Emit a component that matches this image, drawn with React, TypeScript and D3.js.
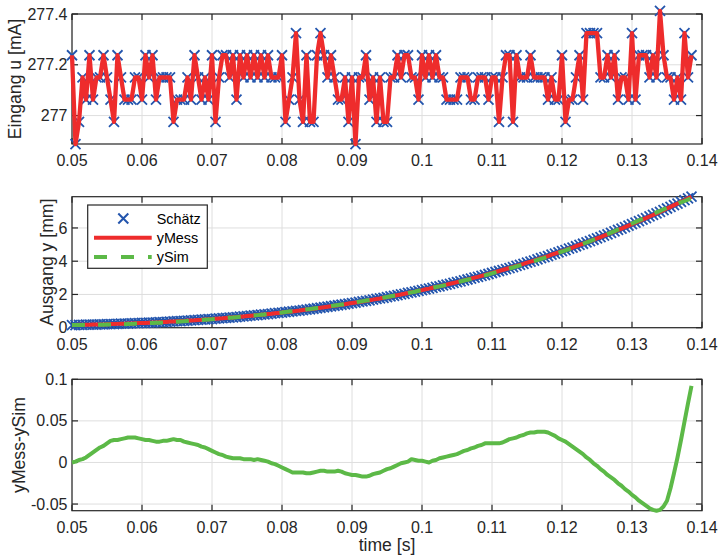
import React from 'react';
import * as d3 from 'd3';

// sampling of all three traces
const T0 = 0.05;
const DT = 0.0005;

// Eingang u: quantised current, given as index into the ADC levels
const uLevels = [276.8875, 276.975, 277.0625, 277.15, 277.2375, 277.325, 277.4125];
const uIdx = [
  4, 0, 1, 3, 2, 4, 2, 3, 3, 4,
  3, 2, 1, 4, 3, 2, 2, 2, 3, 3,
  2, 4, 3, 4, 2, 3, 3, 3, 3, 1,
  2, 2, 2, 3, 2, 4, 3, 2, 3, 2,
  4, 1, 3, 4, 4, 3, 4, 2, 4, 3,
  4, 3, 4, 3, 4, 3, 4, 3, 3, 3,
  4, 1, 2, 3, 5, 2, 1, 4, 1, 1,
  4, 5, 4, 3, 4, 3, 2, 2, 3, 1,
  3, 0, 3, 3, 4, 2, 3, 1, 3, 1,
  1, 3, 3, 4, 3, 4, 4, 3, 3, 2,
  4, 3, 4, 3, 4, 3, 3, 2, 2, 2,
  2, 3, 3, 3, 2, 2, 3, 3, 3, 2,
  3, 3, 1, 3, 4, 4, 1, 4, 3, 3,
  3, 4, 3, 3, 3, 3, 2, 3, 2, 2,
  4, 1, 2, 2, 3, 4, 2, 5, 5, 5,
  5, 3, 3, 4, 3, 4, 2, 3, 3, 2,
  5, 2, 4, 4, 4, 3, 4, 3, 6, 4,
  3, 3, 2, 3, 2, 5, 3, 4,
];

// Ausgang y [mm] (measured)
const yMess = [
  0.16, 0.16, 0.17, 0.17, 0.18, 0.18, 0.19, 0.19, 0.20, 0.20,
  0.21, 0.22, 0.22, 0.23, 0.24, 0.24, 0.25, 0.26, 0.27, 0.28,
  0.29, 0.29, 0.30, 0.31, 0.32, 0.33, 0.34, 0.35, 0.37, 0.38,
  0.39, 0.40, 0.41, 0.43, 0.44, 0.45, 0.47, 0.48, 0.50, 0.51,
  0.52, 0.54, 0.56, 0.57, 0.59, 0.61, 0.62, 0.64, 0.66, 0.68,
  0.70, 0.72, 0.74, 0.76, 0.78, 0.80, 0.82, 0.84, 0.87, 0.89,
  0.91, 0.94, 0.96, 0.98, 1.01, 1.03, 1.06, 1.09, 1.11, 1.14,
  1.17, 1.20, 1.23, 1.26, 1.29, 1.32, 1.35, 1.38, 1.41, 1.45,
  1.48, 1.51, 1.55, 1.58, 1.62, 1.65, 1.69, 1.73, 1.76, 1.80,
  1.84, 1.88, 1.92, 1.96, 2.00, 2.04, 2.09, 2.13, 2.17, 2.22,
  2.26, 2.31, 2.35, 2.40, 2.45, 2.49, 2.54, 2.59, 2.64, 2.69,
  2.74, 2.79, 2.85, 2.90, 2.95, 3.01, 3.06, 3.12, 3.17, 3.23,
  3.29, 3.35, 3.41, 3.47, 3.53, 3.59, 3.65, 3.72, 3.78, 3.84,
  3.91, 3.97, 4.04, 4.11, 4.18, 4.24, 4.31, 4.39, 4.46, 4.53,
  4.60, 4.67, 4.75, 4.82, 4.90, 4.98, 5.05, 5.13, 5.21, 5.29,
  5.37, 5.45, 5.54, 5.62, 5.70, 5.79, 5.88, 5.96, 6.05, 6.14,
  6.23, 6.32, 6.41, 6.50, 6.59, 6.69, 6.78, 6.88, 6.97, 7.07,
  7.17, 7.27, 7.37, 7.47, 7.57, 7.67, 7.78, 7.88,
];

// yMess - ySim
const yDiff = [
  0.000, 0.001, 0.003, 0.004, 0.006, 0.009, 0.012, 0.015, 0.018, 0.020,
  0.023, 0.026, 0.027, 0.027, 0.028, 0.029, 0.030, 0.030, 0.030, 0.029,
  0.028, 0.027, 0.027, 0.026, 0.025, 0.025, 0.026, 0.026, 0.027, 0.028,
  0.027, 0.027, 0.025, 0.024, 0.023, 0.022, 0.021, 0.019, 0.018, 0.016,
  0.014, 0.012, 0.010, 0.009, 0.007, 0.006, 0.005, 0.005, 0.005, 0.004,
  0.004, 0.004, 0.003, 0.004, 0.003, 0.002, 0.001, -0.001, -0.002, -0.004,
  -0.006, -0.008, -0.010, -0.012, -0.012, -0.012, -0.012, -0.013, -0.013, -0.012,
  -0.011, -0.010, -0.010, -0.011, -0.011, -0.011, -0.010, -0.011, -0.013, -0.014,
  -0.015, -0.015, -0.016, -0.017, -0.017, -0.016, -0.014, -0.013, -0.012, -0.010,
  -0.008, -0.007, -0.005, -0.003, -0.001, 0.000, 0.001, 0.004, 0.003, 0.002,
  0.002, 0.001, 0.000, 0.002, 0.003, 0.005, 0.006, 0.007, 0.008, 0.009,
  0.010, 0.012, 0.014, 0.015, 0.017, 0.018, 0.020, 0.021, 0.023, 0.023,
  0.023, 0.023, 0.023, 0.024, 0.026, 0.028, 0.029, 0.030, 0.032, 0.033,
  0.035, 0.036, 0.036, 0.037, 0.037, 0.037, 0.036, 0.034, 0.032, 0.029,
  0.027, 0.025, 0.022, 0.019, 0.016, 0.013, 0.010, 0.006, 0.003, -0.001,
  -0.004, -0.008, -0.011, -0.015, -0.018, -0.021, -0.025, -0.028, -0.032, -0.035,
  -0.039, -0.042, -0.046, -0.049, -0.052, -0.055, -0.057, -0.058, -0.057, -0.053,
  -0.046, -0.031, -0.013, 0.006, 0.027, 0.049, 0.071, 0.092,
];

const xTicks = [0.05, 0.06, 0.07, 0.08, 0.09, 0.1, 0.11, 0.12, 0.13, 0.14];
const uTicks = [277, 277.2, 277.4];
const yTicks = [0, 2, 4, 6];
const dTicks = [-0.05, 0, 0.05, 0.1];
const legendLabels = ['Schätz', 'yMess', 'ySim'];

const FONT = '"Liberation Sans", Arial, Helvetica, sans-serif';
const INK = '#262626';
const GRID = '#dedede';
const BLUE = '#2355ad';
const RED = '#ee2c2c';
const GREEN = '#5cb947';
const TICK = 6;

const time = yMess.map((_, i) => T0 + i * DT);
const u = uIdx.map(k => uLevels[k]);
const ySim = yMess.map((v, i) => v - yDiff[i]);

const x = d3.scaleLinear().domain([0.05, 0.14]).range([72, 702]);
const yU = d3.scaleLinear().domain([276.888, 277.4]).range([144, 14]);
const yY = d3.scaleLinear().domain([0, 7.88]).range([327.7, 196.7]);
const yD = d3.scaleLinear().domain([-0.058, 0.1]).range([510.7, 379.3]);

const cross = 'M-5,-5L5,5M5,-5L-5,5';

function Axes({ y, yt, label, labelX }: any) {
  const [x0, x1] = x.range();
  const [b, t] = y.range();
  return (
    <g>
      <rect x={x0} y={t} width={x1 - x0} height={b - t} fill="#fff" />
      {xTicks.map(v => (
        <line key={'gx' + v} x1={x(v)} x2={x(v)} y1={t} y2={b} stroke={GRID} strokeWidth={1} />
      ))}
      {yt.map((v: number) => (
        <line key={'gy' + v} x1={x0} x2={x1} y1={y(v)} y2={y(v)} stroke={GRID} strokeWidth={1} />
      ))}
      <rect x={x0} y={t} width={x1 - x0} height={b - t} fill="none" stroke={INK} strokeWidth={1.2} />
      {xTicks.map(v => (
        <g key={'tx' + v} stroke={INK} strokeWidth={1.2}>
          <line x1={x(v)} x2={x(v)} y1={b} y2={b - TICK} />
          <line x1={x(v)} x2={x(v)} y1={t} y2={t + TICK} />
        </g>
      ))}
      {yt.map((v: number) => (
        <g key={'ty' + v} stroke={INK} strokeWidth={1.2}>
          <line x1={x0} x2={x0 + TICK} y1={y(v)} y2={y(v)} />
          <line x1={x1} x2={x1 - TICK} y1={y(v)} y2={y(v)} />
        </g>
      ))}
      <g fontFamily={FONT} fontSize={16} fill={INK}>
        {xTicks.map(v => (
          <text key={'lx' + v} x={x(v)} y={b + 22} textAnchor="middle">{String(v)}</text>
        ))}
        {yt.map((v: number) => (
          <text key={'ly' + v} x={67.5} y={y(v)} dy="0.35em" textAnchor="end">{String(v)}</text>
        ))}
      </g>
      <text
        transform={`translate(${labelX},${(b + t) / 2}) rotate(-90)`}
        dy="0.35em"
        textAnchor="middle"
        fontFamily={FONT}
        fontSize={17.6}
        fill={INK}
      >
        {label}
      </text>
    </g>
  );
}

function Crosses({ ys, y }: any) {
  return (
    <g stroke={BLUE} strokeWidth={1.8} fill="none">
      {ys.map((v: number, i: number) => (
        <path key={i} d={cross} transform={`translate(${x(time[i])},${y(v)})`} />
      ))}
    </g>
  );
}

export default function App() {
  const lineU = d3.line<number>().x((_, i) => x(time[i])).y(v => yU(v));
  const lineY = d3.line<number>().x((_, i) => x(time[i])).y(v => yY(v));
  const lineD = d3.line<number>().x((_, i) => x(time[i])).y(v => yD(v));

  const lg = { x: 87.7, y: 205, w: 119.6, h: 63.3 };
  const rowY = [218.5, 237.7, 256.9];

  return (
    <svg
      width={718}
      height={559}
      style={{ position: 'absolute', left: 0, top: 0, display: 'block', background: '#fff' }}
    >
      <rect width={718} height={559} fill="#fff" />

      <Axes y={yU} yt={uTicks} label="Eingang u [mA]" labelX={15} />
      <Crosses ys={u} y={yU} />
      <path d={lineU(u) || ''} fill="none" stroke={RED} strokeWidth={4.3} strokeLinejoin="round" />

      <Axes y={yY} yt={yTicks} label="Ausgang y [mm]" labelX={47} />
      <Crosses ys={yMess} y={yY} />
      <path d={lineY(yMess) || ''} fill="none" stroke={RED} strokeWidth={4} />
      <path d={lineY(ySim) || ''} fill="none" stroke={GREEN} strokeWidth={4} strokeDasharray="13 13" />

      <g>
        <rect x={lg.x} y={lg.y} width={lg.w} height={lg.h} fill="#fff" stroke={INK} strokeWidth={1.2} />
        <path d={cross} transform={`translate(123.3,${rowY[0]})`} stroke={BLUE} strokeWidth={2} fill="none" />
        <line x1={94} x2={151.7} y1={rowY[1]} y2={rowY[1]} stroke={RED} strokeWidth={4} />
        <line x1={94} x2={151.7} y1={rowY[2]} y2={rowY[2]} stroke={GREEN} strokeWidth={4} strokeDasharray="13 14" />
        {legendLabels.map((s, i) => (
          <text key={s} x={156.7} y={rowY[i]} dy="0.35em" fontFamily={FONT} fontSize={14.4} fill="#000">{s}</text>
        ))}
      </g>

      <Axes y={yD} yt={dTicks} label="yMess-ySim" labelX={19} />
      <path d={lineD(yDiff) || ''} fill="none" stroke={GREEN} strokeWidth={4} strokeLinejoin="round" />
      <text x={387} y={551} textAnchor="middle" fontFamily={FONT} fontSize={17.6} fill={INK}>time [s]</text>
    </svg>
  );
}
